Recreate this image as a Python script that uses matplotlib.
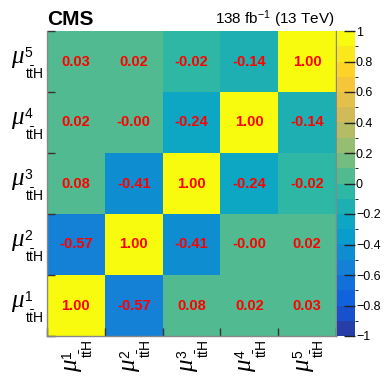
import numpy as np
import matplotlib
matplotlib.use("Agg")
import matplotlib.pyplot as plt
import matplotlib.transforms as mtrans
from matplotlib.colors import ListedColormap, BoundaryNorm, LinearSegmentedColormap

# ---- data ----
labels = ["1", "2", "3", "4", "5"]
# rows: y-parameter (mu1 at bottom ... mu5 at top), columns: x-parameter
corr = [
    [1.00, -0.57, 0.08, 0.02, 0.03],
    [-0.57, 1.00, -0.41, -0.0, 0.02],
    [0.08, -0.41, 1.00, -0.24, -0.02],
    [0.02, -0.0, -0.24, 1.00, -0.14],
    [0.03, 0.02, -0.02, -0.14, 1.00],
]
cbar_ticks = [-1, -0.8, -0.6, -0.4, -0.2, 0, 0.2, 0.4, 0.6, 0.8, 1]

plt.rcParams['font.family'] = ['Liberation Sans', 'DejaVu Sans']
plt.rcParams['mathtext.fontset'] = 'custom'
plt.rcParams['mathtext.rm'] = 'Liberation Sans'
plt.rcParams['mathtext.it'] = 'Liberation Sans:italic'
plt.rcParams['mathtext.bf'] = 'Liberation Sans:bold'

# ROOT kBird palette, discretised into 20 contours
stops = [0.0, 0.125, 0.25, 0.375, 0.5, 0.625, 0.75, 0.875, 1.0]
red = [0.2082, 0.0592, 0.0780, 0.0232, 0.1802, 0.5301, 0.8186, 0.9956, 0.9764]
green = [0.1664, 0.3599, 0.5041, 0.6419, 0.7178, 0.7492, 0.7328, 0.7862, 0.9832]
blue = [0.5293, 0.8684, 0.8385, 0.7914, 0.6425, 0.4662, 0.3499, 0.1968, 0.0539]
bird = LinearSegmentedColormap.from_list(
    "bird", list(zip(stops, zip(red, green, blue))), N=255)
ncont = 20
cols = [bird(min((i + 0.99) / ncont, 1.0)) for i in range(ncont)]
cmap = ListedColormap(cols)
bounds = np.linspace(-1, 1, ncont + 1)
norm = BoundaryNorm(bounds, ncont, clip=True)

W, H = 390, 387
fig = plt.figure(figsize=(W / 100, H / 100), dpi=100)
L, R, T, B = 47, 336, 31, 336
ax = fig.add_axes([L / W, (H - B) / H, (R - L) / W, (B - T) / H])
cax = fig.add_axes([337 / W, (H - B) / H, 17.5 / W, (B - T) / H])

data = np.array(corr)
n = len(labels)
mesh = ax.pcolormesh(np.arange(n + 1), np.arange(n + 1), data,
                     cmap=cmap, norm=norm, zorder=1)
for i in range(n):
    for j in range(n):
        ax.text(j + 0.5, i + 0.5, f"{corr[i][j]:.2f}", ha='center', va='center',
                color='#ff0000', fontsize=10.5, fontweight='bold', zorder=3)

ax.set_xlim(0, n)
ax.set_ylim(0, n)
ax.set_xticks(np.arange(n + 1))
ax.set_yticks(np.arange(n + 1))
ax.set_xticklabels([])
ax.set_yticklabels([])
ax.tick_params(which='major', direction='in', length=6, width=1, color='#333333')
for side in ['left', 'bottom', 'right']:
    ax.spines[side].set_color('#888888')
    ax.spines[side].set_linewidth(1)
ax.spines['top'].set_visible(False)

# axis labels: mu (large italic) with stacked superscript index and subscript ttH
# offsets (a, b) in pixels in the text frame: a along reading direction, b upward
parts = [
    # (kind, ha, a, b, size, family, style)
    ("mu", "right", -23.0, -1.5, 18, "Liberation Serif", "italic"),
    ("sup", "left", -22.5, 4.8, 10, "Liberation Sans", "normal"),
    ("sub", "right", -3.7, -17.3, 10, "Liberation Sans", "normal"),
]


def make_text(kind, idx):
    if kind == "mu":
        return "\u03bc"
    if kind == "sup":
        return labels[idx]
    return r"$\mathrm{t\bar{t}H}$"


ytrans = mtrans.blended_transform_factory(ax.transAxes, ax.transData)
xtrans = mtrans.blended_transform_factory(ax.transData, ax.transAxes)
for k in range(n):
    for kind, ha, a, b, size, fam, sty in parts:
        s = make_text(kind, k)
        # y-axis label
        off = mtrans.ScaledTranslation(a / 100, b / 100, fig.dpi_scale_trans)
        fig.text(0, k + 0.5, s, transform=ytrans + off, ha=ha, va='baseline',
                 fontsize=size, family=fam, style=sty)
        # x-axis label (rotated 90 deg): screen offset = (-b, a)
        off2 = mtrans.ScaledTranslation(-b / 100, a / 100, fig.dpi_scale_trans)
        fig.text(k + 0.5, 0, s, transform=xtrans + off2, ha=ha, va='baseline',
                 fontsize=size, family=fam, style=sty,
                 rotation=90, rotation_mode='anchor')

cb = fig.colorbar(mesh, cax=cax, ticks=cbar_ticks)
cb.outline.set_visible(False)
cb.ax.set_yticklabels([f"{t:g}".replace('-', '\u2212') for t in cbar_ticks])
cb.ax.tick_params(direction='in', length=8, width=1, color='#222222',
                  labelsize=9, pad=1)

fig.text(L / W, (H - 25) / H, "CMS", fontsize=15, fontweight='bold',
         ha='left', va='baseline')
fig.text(335 / W, (H - 24) / H, r"138 fb$^{-1}$ (13 TeV)", fontsize=11,
         ha='right', va='baseline')

fig.savefig("out.png", dpi=100)
